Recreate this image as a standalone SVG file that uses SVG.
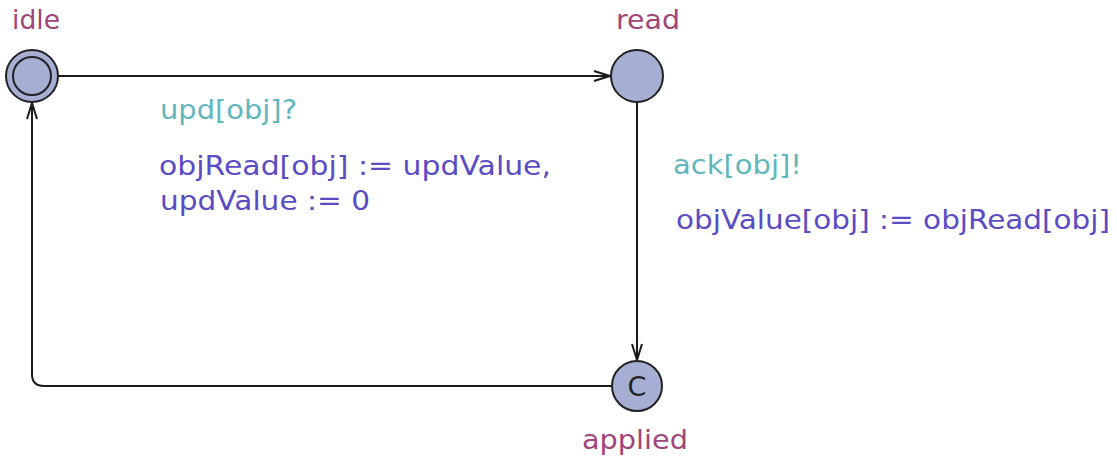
<svg xmlns="http://www.w3.org/2000/svg" width="1117" height="459" viewBox="0 0 1117 459">
  <style>
    .loc { fill: #a6aed4; stroke: #222; stroke-width: 2; }
    .edge { fill: none; stroke: #1a1a1a; stroke-width: 2; }
    text { font-family: "DejaVu Sans", sans-serif; font-size: 27px; }
    .name { fill: #a0457a; }
    .sync { fill: #5fb7bd; }
    .assign { fill: #5a4dc4; }
  </style>
  <defs>
    <marker id="arrow" viewBox="0 0 18 14" refX="17" refY="7" markerWidth="18" markerHeight="14" markerUnits="userSpaceOnUse" orient="auto">
      <path d="M1,2 L17,7 L1,12" fill="none" stroke="#1a1a1a" stroke-width="2"/>
    </marker>
  </defs>
  <rect width="1117" height="459" fill="#ffffff"/>
  <g id="connectors">
    <path class="edge" d="M58,76 L610,76" marker-end="url(#arrow)"/>
    <path class="edge" d="M637,102 L637,360" marker-end="url(#arrow)"/>
    <path class="edge" d="M611,386 L44,386 Q32,386 32,374 L32,103" marker-end="url(#arrow)"/>
  </g>
  <g id="idle">
    <circle class="loc" cx="32" cy="76" r="26"/>
    <circle class="loc" cx="32" cy="76" r="19"/>
    <text class="name" x="12" y="29" textLength="48" lengthAdjust="spacingAndGlyphs">idle</text>
  </g>
  <g id="read">
    <circle class="loc" cx="637" cy="76" r="26"/>
    <text class="name" x="616" y="29" textLength="64" lengthAdjust="spacingAndGlyphs">read</text>
  </g>
  <g id="applied">
    <circle class="loc" cx="637" cy="386" r="25"/>
    <text x="637" y="396" text-anchor="middle" font-size="29" fill="#222">C</text>
    <text class="name" x="582" y="449" textLength="106" lengthAdjust="spacingAndGlyphs">applied</text>
  </g>
  <g id="labels">
    <text class="sync" x="160" y="119" textLength="137" lengthAdjust="spacingAndGlyphs">upd[obj]?</text>
    <text class="assign" x="159" y="175" textLength="392" lengthAdjust="spacingAndGlyphs">objRead[obj] := updValue,</text>
    <text class="assign" x="160" y="210" textLength="210" lengthAdjust="spacingAndGlyphs">updValue := 0</text>
    <text class="sync" x="673" y="174" textLength="129" lengthAdjust="spacingAndGlyphs">ack[obj]!</text>
    <text class="assign" x="676" y="229" textLength="434" lengthAdjust="spacingAndGlyphs">objValue[obj] := objRead[obj]</text>
  </g>
</svg>
